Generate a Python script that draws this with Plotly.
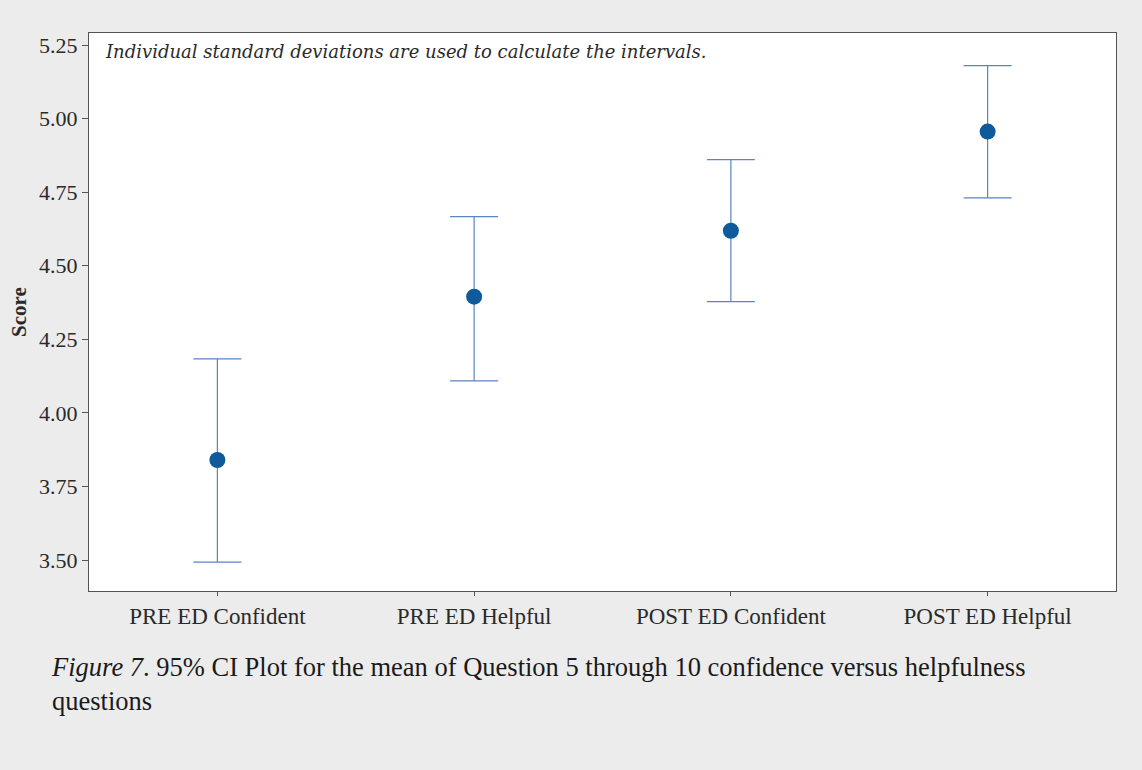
import plotly.graph_objects as go

categories = ["PRE ED Confident", "PRE ED Helpful", "POST ED Confident", "POST ED Helpful"]
means = [3.84, 4.395, 4.619, 4.956]
upper = [4.184, 4.667, 4.861, 5.180]
lower = [3.493, 4.109, 4.378, 4.731]
y_ticks = [3.50, 3.75, 4.00, 4.25, 4.50, 4.75, 5.00, 5.25]
y_tick_labels = ["3.50", "3.75", "4.00", "4.25", "4.50", "4.75", "5.00", "5.25"]

err_plus = [u - m for u, m in zip(upper, means)]
err_minus = [m - l for m, l in zip(means, lower)]

fig = go.Figure()
fig.add_trace(go.Scatter(
    x=categories, y=means, mode="markers",
    marker=dict(size=16, color="#0f5a9a"),
    error_y=dict(type="data", symmetric=False, array=err_plus, arrayminus=err_minus,
                 color="#5b84c4", thickness=1.2, width=24),
    showlegend=False, hoverinfo="skip",
))

serif = "Liberation Serif, Times New Roman, serif"

fig.update_layout(
    width=1142, height=770,
    paper_bgcolor="#ececec", plot_bgcolor="#ffffff",
    margin=dict(l=89, r=26, t=33, b=179),
    font=dict(family=serif, color="#2a2a2a"),
    xaxis=dict(type="category", range=[-0.5, 3.5], showgrid=False, zeroline=False,
               showline=True, linecolor="#555555", linewidth=1, mirror=True,
               ticks="outside", ticklen=4, tickcolor="#555555",
               tickfont=dict(family=serif, size=23, color="#2a2a2a")),
    yaxis=dict(range=[3.395, 5.291], tickvals=y_ticks, ticktext=y_tick_labels,
               showgrid=False, zeroline=False,
               showline=True, linecolor="#555555", linewidth=1, mirror=True,
               ticks="outside", ticklen=6, tickcolor="#555555",
               tickfont=dict(family=serif, size=22, color="#2a2a2a"),
               title=dict(text="<b>Score</b>", font=dict(family=serif, size=21, color="#2a2a2a"),
                          standoff=6)),
    annotations=[
        dict(text="<i>Individual standard deviations are used to calculate the intervals.</i>",
             xref="paper", yref="paper", x=0.0135, y=0.99, xanchor="left", yanchor="top",
             showarrow=False, font=dict(family="DejaVu Serif, serif", size=18, color="#2a2a2a")),
        dict(text="<i>Figure 7</i>. 95% CI Plot for the mean of Question 5 through 10 confidence versus helpfulness<br>questions",
             xref="paper", yref="paper", x=-0.0394, y=-0.105, xanchor="left", yanchor="top",
             align="left", showarrow=False,
             font=dict(family=serif, size=26.5, color="#1a1a1a")),
    ],
)

fig.write_html("out.html", config={"displayModeBar": False},
               post_script="document.body.style.margin='0';document.body.style.background='#ececec';")
